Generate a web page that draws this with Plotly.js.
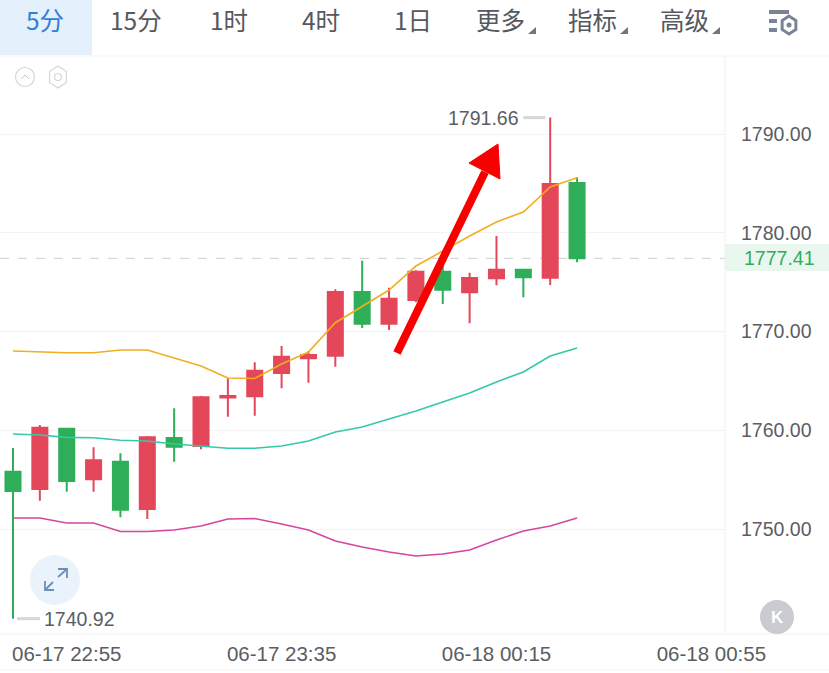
<!DOCTYPE html>
<html><head><meta charset="utf-8">
<script src="https://cdn.plot.ly/plotly-3.0.1.min.js"></script>
<style>html,body{margin:0;padding:0;background:#fff;overflow:hidden}#c{width:829px;height:673px}</style>
</head><body><div id="c"></div>
<script>
var idx = [0,1,2,3,4,5,6,7,8,9,10,11,12,13,14,15,16,17,18,19,20,21];
var opens  = [1755.80,1754.05,1760.16,1755.03,1756.81,1752.02,1759.21,1758.40,1763.32,1763.44,1765.80,1767.29,1767.55,1774.00,1770.79,1773.19,1776.05,1773.97,1775.39,1776.26,1775.45,1785.04];
var highs  = [1758.20,1760.53,1760.16,1758.27,1757.66,1759.42,1762.22,1763.47,1765.26,1766.88,1768.53,1768.02,1774.27,1777.17,1774.43,1776.20,1776.94,1775.95,1779.67,1776.26,1791.66,1785.62];
var lows   = [1740.92,1752.86,1753.78,1753.78,1751.18,1751.01,1756.81,1758.07,1761.37,1761.47,1764.25,1764.81,1766.43,1770.35,1770.15,1772.95,1772.78,1770.83,1774.68,1773.46,1774.71,1777.01];
var closes = [1753.85,1760.26,1754.86,1756.96,1751.95,1759.28,1758.33,1763.34,1763.47,1766.03,1767.45,1767.62,1774.00,1770.79,1773.32,1776.05,1774.23,1775.42,1776.26,1775.49,1784.94,1777.41];
var upperBand = [1768.02,1767.92,1767.85,1767.85,1768.13,1768.13,1767.32,1766.51,1765.29,1765.24,1766.71,1767.92,1770.89,1772.51,1774.20,1776.63,1778.18,1779.67,1781.09,1782.10,1784.63,1785.57];
var midBand   = [1759.62,1759.52,1759.28,1759.24,1758.98,1758.91,1758.61,1758.40,1758.17,1758.17,1758.40,1758.91,1759.82,1760.33,1761.14,1761.95,1762.86,1763.77,1764.89,1765.90,1767.52,1768.33];
var lowerBand = [1751.11,1751.11,1750.61,1750.61,1749.75,1749.75,1749.90,1750.30,1751.01,1751.06,1750.50,1749.90,1748.78,1748.18,1747.67,1747.26,1747.47,1747.87,1748.88,1749.80,1750.30,1751.11];
var xTickVals = [2,10,18,26];
var xTickText = ['06-17 22:55','06-17 23:35','06-18 00:15','06-18 00:55'];
var yTickVals = [1750,1760,1770,1780,1790];
var lastPrice = 1777.41, maxPrice = 1791.66, minPrice = 1740.92;
var tabs = ['5分','15分','1时','4时','1日','更多','指标','高级'];
var tabX = [45,136,229,321,413,500,592,684];

var W=829,H=673,L=0,R=725,T=56,B=634;
function px(x){return (x-L)/(R-L);} function py(y){return (B-y)/(B-T);}
function path(pts,close){return pts.map(function(p,i){return (i?'L':'M')+px(p[0])+','+py(p[1]);}).join(' ')+(close?' Z':'');}
function P(pts,o){o=o||{};return {type:'path',xref:'paper',yref:'paper',path:path(pts,o.close),
  fillcolor:o.fill||'rgba(0,0,0,0)',line:{color:o.color||'rgba(0,0,0,0)',width:o.width===undefined?1:o.width},layer:o.layer||'above'};}
function circle(cx,cy,r,o){return {type:'circle',xref:'paper',yref:'paper',x0:px(cx-r),x1:px(cx+r),y0:py(cy+r),y1:py(cy-r),
  fillcolor:o.fill||'rgba(0,0,0,0)',line:{color:o.color||'rgba(0,0,0,0)',width:o.width||0},layer:'above'};}
function rect(x0,y0,x1,y1,fill,layer){return {type:'rect',xref:'paper',yref:'paper',x0:px(x0),x1:px(x1),y0:py(y1),y1:py(y0),fillcolor:fill,line:{width:0},layer:layer||'below'};}
function hex(cx,cy,r){var a=[];for(var i=0;i<6;i++){var t=Math.PI/6+i*Math.PI/3;a.push([cx+r*0.88*Math.cos(t),cy+r*Math.sin(t)]);}return a;}

var shapes=[
 rect(0,0,92,55,'#e4f0fc'),
 rect(725,244,829,271,'#e9f7ef'),
 P([[0,56],[829,56]],{color:'#f4f4f4'}),
 P([[725,56],[725,634]],{color:'#f0f0f0'}),
 P([[0,634],[829,634]],{color:'#f0f0f0'}),
 P([[0,670],[829,670]],{color:'#f3f3f3'}),
 {type:'line',xref:'paper',yref:'y',x0:0,x1:1,y0:lastPrice,y1:lastPrice,line:{color:'#cfcfcf',width:1,dash:'dash'},layer:'below'},
 {type:'line',xref:'x',yref:'y',x0:19.0,x1:19.82,y0:maxPrice,y1:maxPrice,line:{color:'#d6d6d6',width:3},layer:'above'},
 {type:'line',xref:'x',yref:'y',x0:0.15,x1:1.0,y0:minPrice,y1:minPrice,line:{color:'#d6d6d6',width:3},layer:'above'},
 // hand-drawn arrow
 P([[397,353],[485,172]],{color:'#f80000',width:8}),
 P([[498,144],[469,163],[500,179]],{close:true,fill:'#f80000',color:'#f80000',width:1}),
 // tab triangles
 P([[536,27],[536,34],[528,34]],{close:true,fill:'#6f7680'}),
 P([[628,27],[628,34],[620,34]],{close:true,fill:'#6f7680'}),
 P([[720,27],[720,34],[712,34]],{close:true,fill:'#6f7680'}),
 // settings icon
 rect(769,10,789,14,'#7b8494','above'),
 rect(769,19,777,23,'#7b8494','above'),
 rect(769,28,777,32,'#7b8494','above'),
 P(hex(789,25,9),{close:true,color:'#7b8494',width:3}),
 circle(789,25,2.5,{fill:'#7b8494'}),
 // top-left icons
 circle(25,77,9.5,{color:'#d4d6d9',width:1.2}),
 P([[21,79],[25,75],[29,79]],{color:'#c4c6c9',width:1}),
 P(hex(58,77,11),{close:true,color:'#d4d6d9',width:1.2}),
 circle(58,77,3.5,{color:'#d4d6d9',width:1.2}),
 // expand button
 circle(55,580,25,{fill:'#eaf3fc'}),
 P([[46,589],[53,582]],{color:'#6a8fb8',width:1.8}),
 P([[58,577],[67,569]],{color:'#6a8fb8',width:1.8}),
 P([[58,569],[67,569],[67,578]],{color:'#6a8fb8',width:1.8}),
 P([[45,581],[45,590],[54,590]],{color:'#6a8fb8',width:1.8}),
 // K button
 circle(777,617,17,{fill:'#c9cbce'})
];

var labelFont={family:'"Liberation Sans","Noto Sans CJK SC",sans-serif',size:19.5,color:'#5a5d63'};
var annotations=tabs.map(function(t,i){return {xref:'paper',yref:'paper',x:px(tabX[i]),y:py(19),text:t,showarrow:false,xanchor:'center',yanchor:'middle',
  font:{family:'"Noto Sans CJK SC",sans-serif',size:24.5,color:i===0?'#2f7fd6':'#55585e'}};});
annotations.push(
 {xref:'paper',yref:'paper',x:px(521),y:py(118),text:'1791.66',showarrow:false,xanchor:'right',yanchor:'middle',font:labelFont},
 {xref:'paper',yref:'paper',x:px(42),y:py(619),text:'1740.92',showarrow:false,xanchor:'left',yanchor:'middle',font:labelFont},
 {xref:'paper',yref:'paper',x:px(779),y:py(258),text:'1777.41',showarrow:false,xanchor:'center',yanchor:'middle',font:{family:labelFont.family,size:19.5,color:'#2fae5a'}},
 {xref:'paper',yref:'paper',x:px(777),y:py(617),text:'<b>K</b>',showarrow:false,xanchor:'center',yanchor:'middle',font:{family:labelFont.family,size:17,color:'#ffffff'}}
);

var data=[
 {type:'candlestick',x:idx,open:opens,high:highs,low:lows,close:closes,whiskerwidth:0,
  increasing:{line:{color:'#e4475a',width:2},fillcolor:'#e4475a'},
  decreasing:{line:{color:'#2fae5a',width:2},fillcolor:'#2fae5a'},hoverinfo:'skip',showlegend:false},
 {type:'scatter',mode:'lines',x:idx,y:upperBand,line:{color:'#f0ae20',width:1.6},hoverinfo:'skip',showlegend:false},
 {type:'scatter',mode:'lines',x:idx,y:midBand,line:{color:'#35c9a8',width:1.6},hoverinfo:'skip',showlegend:false},
 {type:'scatter',mode:'lines',x:idx,y:lowerBand,line:{color:'#d6459f',width:1.6},hoverinfo:'skip',showlegend:false}
];
var layout={
 width:W,height:H,margin:{l:L,r:W-R,t:T,b:H-B,pad:0},
 paper_bgcolor:'#ffffff',plot_bgcolor:'#ffffff',showlegend:false,boxgap:0.2,
 xaxis:{type:'linear',range:[(L-13)/26.86,(R-13)/26.86],tickmode:'array',tickvals:xTickVals,ticktext:xTickText,
  showgrid:false,zeroline:false,showline:false,ticks:'',tickfont:{family:labelFont.family,size:20.5,color:'#5a5d63'},ticklabelstandoff:5,rangeslider:{visible:false},fixedrange:true},
 yaxis:{side:'right',range:[1790-(B-134)/9.875,1790+(134-T)/9.875],tickmode:'array',tickvals:yTickVals,tickformat:'.2f',
  showgrid:true,gridcolor:'#f3f3f3',gridwidth:1,zeroline:false,showline:false,ticks:'',tickfont:{family:labelFont.family,size:19.5,color:'#5a5d63'},ticklabelstandoff:15,fixedrange:true},
 shapes:shapes,annotations:annotations
};
Plotly.newPlot('c',data,layout,{displayModeBar:false,staticPlot:true});
</script></body></html>
